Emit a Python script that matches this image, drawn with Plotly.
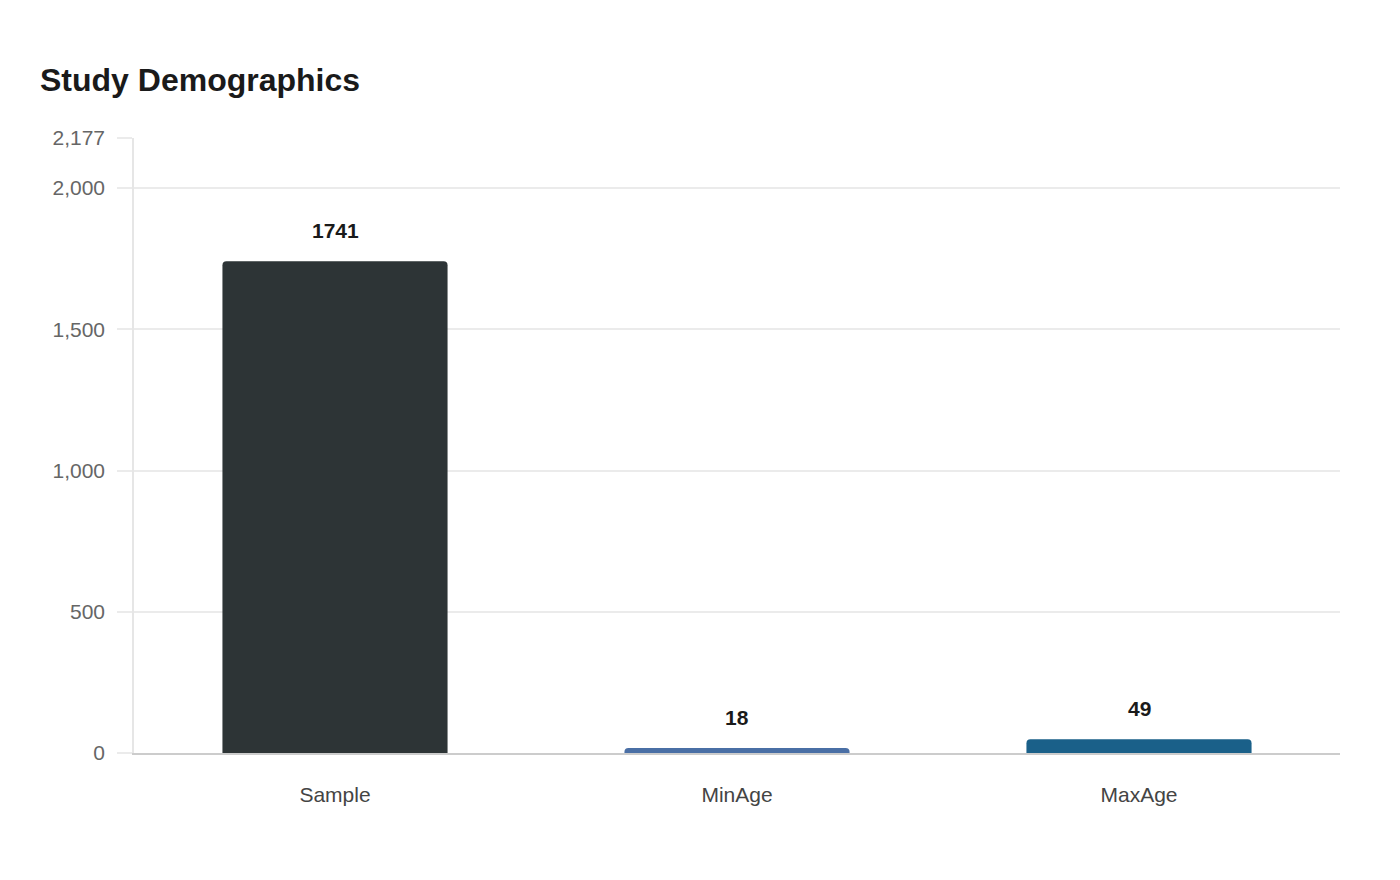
import plotly.graph_objects as go

# chart data
categories = ["Sample", "MinAge", "MaxAge"]
values = [1741, 18, 49]
bar_colors = ["#2d3436", "#4a6fa5", "#1a6089"]
tick_vals = [0, 500, 1000, 1500, 2000, 2177]
y_max = 2177

fig = go.Figure()

fig.add_bar(
    x=categories,
    y=values,
    marker=dict(color=bar_colors, cornerradius=4, line=dict(width=0)),
    hoverinfo="x+y",
)

# value labels floated a bit above each bar
for cat, val in zip(categories, values):
    fig.add_annotation(
        x=cat, y=val, text=f"<b>{val}</b>",
        showarrow=False, yanchor="bottom", yshift=17,
        font=dict(size=21, color="#1a1a1a", family="Liberation Sans, Arial, sans-serif"),
    )

fig.update_layout(
    width=1400,
    height=880,
    title=dict(
        text="<b>Study Demographics</b>",
        x=0, xanchor="left", xref="container",
        y=1 - 72 / 880, yanchor="middle", yref="container",
        pad=dict(l=32),
        font=dict(size=32, color="#1a1a1a", family="Liberation Sans, Arial, sans-serif"),
    ),
    margin=dict(l=126, r=68, t=130, b=135),
    plot_bgcolor="white",
    paper_bgcolor="white",
    bargap=0.44,
    showlegend=False,
    font=dict(family="Liberation Sans, Arial, sans-serif"),
)

fig.update_xaxes(
    showgrid=False,
    showline=True, linecolor="#cccccc", linewidth=1.5,
    ticks="", tickfont=dict(size=21, color="#444444"),
    ticklabelstandoff=22,
)
fig.update_yaxes(
    range=[0, y_max],
    tickvals=tick_vals,
    tickformat=",",
    showgrid=True, gridcolor="#ebebeb", gridwidth=1.5,
    showline=True, linecolor="#e6e6e6", linewidth=1.5,
    ticks="outside", ticklen=15, tickcolor="#ebebeb", tickwidth=1.5,
    ticklabelstandoff=8,
    tickfont=dict(size=21, color="#666666"),
    zeroline=False,
)

fig.write_html("out.html")
